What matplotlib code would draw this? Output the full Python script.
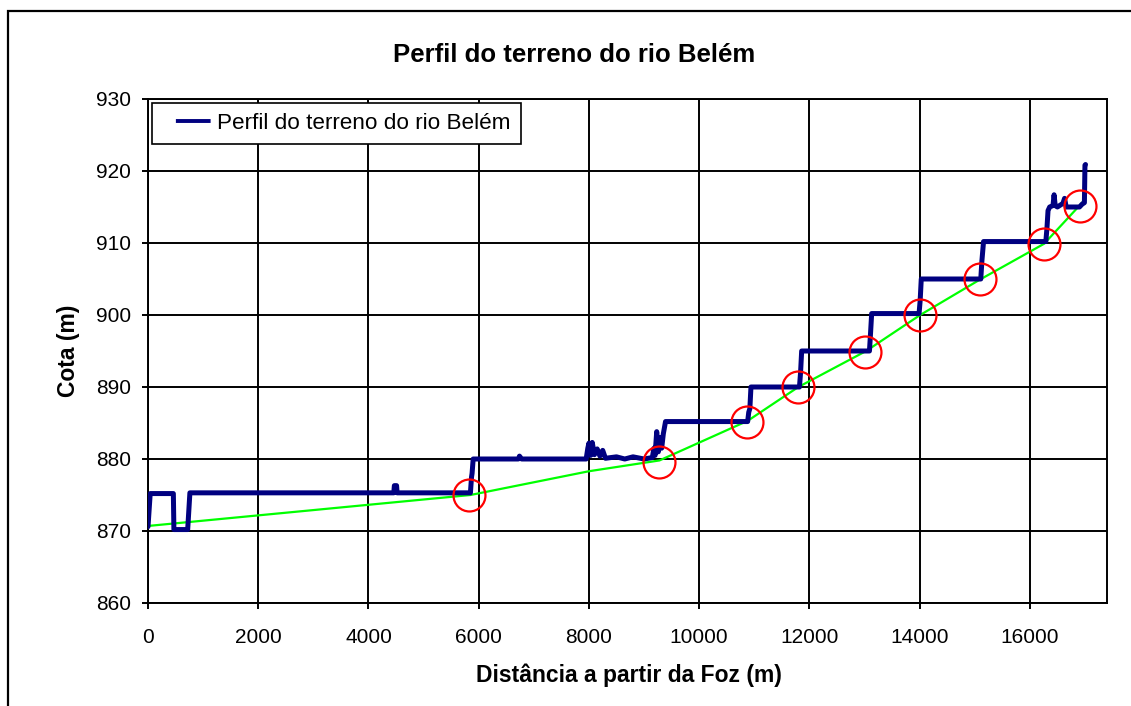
import matplotlib
matplotlib.use("Agg")
import matplotlib.pyplot as plt
from matplotlib.lines import Line2D
from matplotlib.patches import Rectangle

plt.rcParams['font.family'] = ['Liberation Sans', 'DejaVu Sans']
plt.rcParams['lines.scale_dashes'] = False

# Blue terrain profile (distance m, elevation m)
profile_x = [0, 40, 460, 470, 720, 760, 4460, 4470, 4510, 4520, 5850, 5870, 5880, 5900,
             6720, 6740, 6780, 7950, 7980, 8000, 8030, 8060, 8100, 8150, 8200, 8250, 8300,
             8500, 8650, 8800, 9000, 9150, 9180, 9200, 9230, 9260, 9290, 9320, 9350, 9390,
             10880, 10900, 10920, 10940, 11820, 11840, 11860, 13090, 13110, 13130, 13990,
             14010, 14030, 15110, 15130, 15160, 16290, 16310, 16330, 16360, 16420, 16440,
             16460, 16500, 16600, 16630, 16660, 16900, 16950, 16990, 17000, 17010]
profile_y = [870.6, 875.2, 875.2, 870.2, 870.2, 875.3, 875.3, 876.3, 876.3, 875.3, 875.3, 877.5,
             878.0, 880.0, 880.0, 880.4, 880.0, 880.0, 881.5, 882.2, 880.5, 882.3, 880.6, 881.4,
             880.4, 881.2, 880.1, 880.3, 880.0, 880.3, 880.0, 880.2, 881.5, 880.5, 883.8, 881.0,
             883.0, 881.5, 883.5, 885.2, 885.2, 886.5, 887.0, 890.0, 890.0, 892.0, 895.0, 895.0,
             897.5, 900.2, 900.2, 902.0, 905.0, 905.0, 907.5, 910.2, 910.2, 912.0, 914.5, 915.0,
             915.2, 916.7, 915.2, 915.0, 915.5, 916.2, 915.0, 915.0, 915.4, 915.6, 920.8, 920.9]

# Green reference line
green_x = [0, 5850, 8000, 9280, 10880, 11800, 13030, 14010, 15090, 16260, 16950]
green_y = [870.7, 875.0, 878.3, 879.8, 885.3, 890.0, 895.0, 900.0, 904.9, 909.9, 915.6]

# Red circles at step bases
circle_x = [5830, 9270, 10860, 11796, 13018, 14015, 15092, 16253, 16906]
circle_y = [875.0, 879.6, 885.2, 890.0, 894.9, 900.0, 905.0, 909.9, 915.2]

x_ticks = [0, 2000, 4000, 6000, 8000, 10000, 12000, 14000, 16000]
y_ticks = [860, 870, 880, 890, 900, 910, 920, 930]

W, H = 1131, 706
fig = plt.figure(figsize=(W / 100, H / 100), dpi=100)
ax = fig.add_axes([148 / W, 1 - 603 / H, (1107 - 148) / W, (603 - 99) / H])

ax.set_xlim(0, 17400)
ax.set_ylim(860, 930)
ax.set_xticks(x_ticks)
ax.set_yticks(y_ticks)
ax.grid(True, color='black', linewidth=1.4)
ax.set_axisbelow(True)
for s in ax.spines.values():
    s.set_linewidth(1.4)
    s.set_color('black')
ax.tick_params(direction='out', length=4, width=1.4, labelsize=15, colors='black')
ax.tick_params(axis='x', pad=14)
ax.tick_params(axis='y', pad=8)

ax.plot(green_x, green_y, color='#00ff00', linewidth=1.6, zorder=3)
ax.plot(profile_x, profile_y, color='#000080', linewidth=3.6,
        solid_capstyle='round', solid_joinstyle='round', zorder=4)
ax.plot(circle_x, circle_y, linestyle='none', marker='o', markersize=23,
        markerfacecolor='none', markeredgecolor='#ff0000', markeredgewidth=1.6, zorder=5)

handle = Line2D([], [], color='#000080', linewidth=2.8,
                linestyle=(0, (0.001, 10, 25, 200)), dash_capstyle='butt')
leg = ax.legend([handle], ['Perfil do terreno do rio Belém'], loc='upper left',
                bbox_to_anchor=(4 / 959, 1 - 4 / 504), fontsize=16.2, frameon=True,
                fancybox=False, framealpha=1, edgecolor='black', borderpad=0.45,
                handlelength=2.25, handletextpad=0.2, borderaxespad=0)
leg.get_frame().set_linewidth(1.2)

fig.text(574 / W, 1 - 55 / H, 'Perfil do terreno do rio Belém', ha='center', va='center',
         fontsize=18.5, fontweight='bold')
fig.text(629 / W, 1 - 675 / H, 'Distância a partir da Foz (m)', ha='center', va='center',
         fontsize=16.5, fontweight='bold')
fig.text(68 / W, 1 - 351 / H, 'Cota (m)', ha='center', va='center', rotation=90,
         fontsize=16.5, fontweight='bold')

fig.patches.append(Rectangle((8 / W, -0.1), 2, 1.1 - 11 / H, transform=fig.transFigure,
                             fill=False, edgecolor='black', linewidth=1.6))

fig.savefig('out.png', dpi=100)
